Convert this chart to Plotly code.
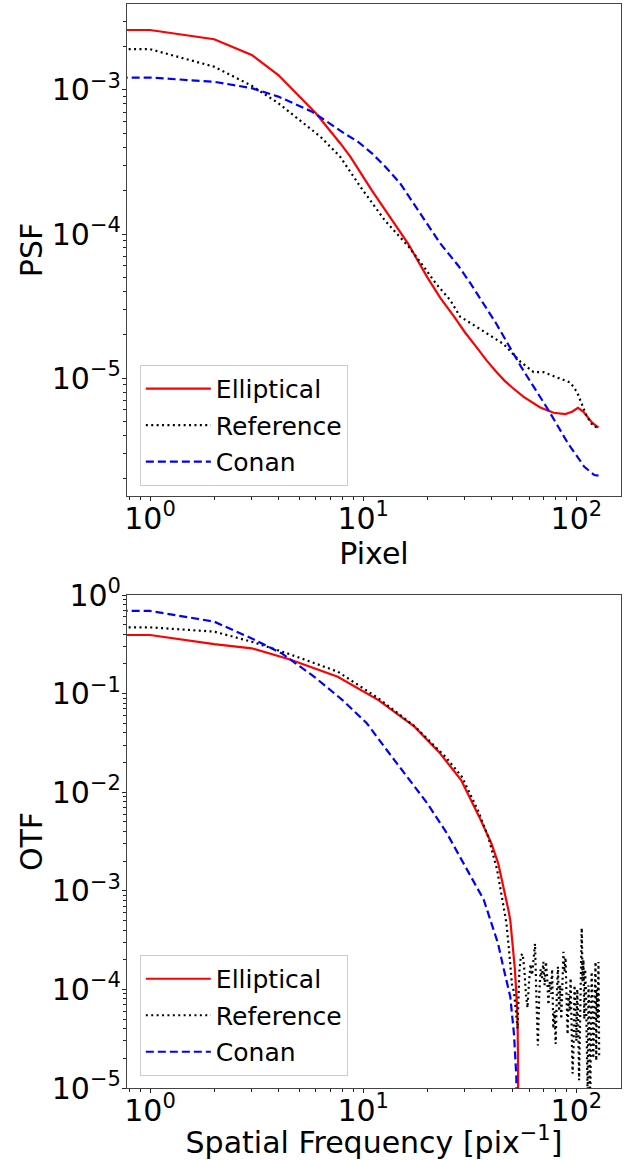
import plotly.graph_objects as go
import numpy as np

# ---------------- PSF (top) ----------------
psf_ell_x = [0.01, 1, 2, 3, 4, 5, 6, 7.8, 8.7, 11, 13, 16.3, 20, 23, 26.7, 30, 34, 38, 42, 46, 50,
             56.6, 67.7, 78.2, 88.8, 95.4, 101.8, 108, 118.5, 127]
psf_ell_y = [2.61e-3, 2.61e-3, 2.25e-3, 1.75e-3, 1.27e-3, 9.0e-4, 6.9e-4, 4.27e-4, 3.45e-4,
             2.0e-4, 1.4e-4, 8.5e-5, 5.0e-5, 3.6e-5, 2.67e-5, 2.08e-5, 1.64e-5, 1.32e-5, 1.11e-5,
             9.6e-6, 8.6e-6, 7.4e-6, 6.25e-6, 5.74e-6, 5.62e-6, 5.83e-6, 6.2e-6, 5.83e-6, 4.9e-6, 4.52e-6]

psf_ref_x = [0.01, 1, 2, 3, 4, 5, 6.3, 7.8, 9.7, 12.6, 16.3, 19.3, 22, 25.6, 28.5, 36, 40,
             45.6, 54.6, 63, 70, 84, 93.7, 100.7, 106, 112, 120.6, 127]
psf_ref_y = [1.92e-3, 1.92e-3, 1.45e-3, 1.07e-3, 8.1e-4, 6.2e-4, 4.74e-4, 3.44e-4, 2.13e-4,
             1.25e-4, 8.2e-5, 5.9e-5, 4.5e-5, 3.48e-5, 2.67e-5, 2.15e-5, 1.95e-5, 1.72e-5,
             1.3e-5, 1.1e-5, 1.1e-5, 9.95e-6, 9.3e-6, 8.0e-6, 6.7e-6, 5.4e-6, 4.6e-6, 4.55e-6]

psf_con_x = [0.01, 1, 2, 3, 4, 5.76, 8.15, 9.5, 11, 12.8, 14.9, 16.5, 18.5, 23, 28, 32, 42, 55,
             73.9, 91.6, 109, 121.5, 127]
psf_con_y = [1.22e-3, 1.22e-3, 1.14e-3, 1.03e-3, 9.0e-4, 7.07e-4, 5.0e-4, 4.35e-4, 3.63e-4,
             2.9e-4, 2.25e-4, 1.8e-4, 1.39e-4, 8.6e-5, 6.0e-5, 4.5e-5, 2.4e-5, 1.2e-5, 6.0e-6,
             3.5e-6, 2.42e-6, 2.12e-6, 2.1e-6]

# ---------------- OTF (bottom) ----------------
otf_ell_x = [0.01, 1, 2, 3, 4.5, 7.6, 11.8, 17.4, 22.6, 28.8, 35, 40, 43, 46, 48, 49, 50.5,
             51.5, 52.3, 53, 53.3, 53.4]
otf_ell_y = [0.393, 0.393, 0.318, 0.288, 0.223, 0.148, 0.086, 0.0462, 0.0258, 0.0133, 0.00565,
             0.0030, 0.0019, 1.0e-3, 6.4e-4, 5.0e-4, 2.5e-4, 1.6e-4, 9e-5, 5e-5, 1.5e-5, 1e-8]

otf_ref_x = [0.01, 1, 2, 3, 4.5, 7.6, 11.8, 17.4, 24.3, 29, 34.5, 38.6, 42.5, 44.5, 47, 48.5,
             50] + list(range(51, 129))
otf_ref_y = [0.47, 0.47, 0.425, 0.336, 0.252, 0.167, 0.0895, 0.0469, 0.0229, 0.0144, 0.0066,
             0.00354, 0.00163, 9.5e-4, 4.7e-4, 2.3e-4, 1.07e-4,
             # x = 51 .. 128 (noisy floor)
             0.95e-4, 0.6e-4, 0.4e-4, 1.5e-4, 2.2e-4, 2.3e-4, 1.6e-4, 0.9e-4, 0.65e-4, 1.2e-4,
             1.8e-4, 1.4e-4, 2.2e-4, 2.9e-4, 0.8e-4, 0.27e-4, 0.9e-4, 1.6e-4, 1.3e-4, 1.9e-4,
             1.1e-4, 1.9e-4, 1.3e-4, 0.7e-4, 1.2e-4, 0.9e-4, 1.6e-4, 0.4e-4, 0.6e-4, 0.28e-4,
             0.9e-4, 1.7e-4, 0.6e-4, 1.1e-4, 0.5e-4, 1.3e-4, 2.4e-4, 1.5e-4, 2.1e-4, 0.8e-4,
             0.35e-4, 0.9e-4, 0.6e-4, 1.3e-4, 0.4e-4, 0.14e-4, 0.25e-4, 1.1e-4, 0.7e-4, 0.3e-4,
             1.0e-4, 0.5e-4, 0.12e-4, 0.6e-4, 1.9e-4, 4.2e-4, 1.2e-4, 2.0e-4, 0.5e-4, 1.6e-4,
             0.9e-4, 0.3e-4, 0.08e-4, 1.1e-4, 0.6e-4, 0.05e-4, 0.4e-4, 1.5e-4, 0.7e-4, 0.2e-4,
             0.35e-4, 1.1e-4, 1.9e-4, 0.19e-4, 1.0e-4, 0.5e-4, 1.9e-4, 0.2e-4]

otf_con_x = [0.01, 1, 2, 3, 4.15, 5.9, 8, 10.4, 12.9, 16, 20, 24.7, 30.5, 36.8, 39.5, 42.9,
             46, 49, 51, 52.3, 53.2]
otf_con_y = [0.689, 0.689, 0.537, 0.363, 0.256, 0.148, 0.086, 0.05, 0.0268, 0.0144, 0.0077,
             0.00383, 0.00169, 8.1e-4, 5.06e-4, 2.93e-4, 1.5e-4, 8.4e-5, 3.5e-5, 1.3e-5, 1e-8]

series_names = ["Elliptical", "Reference", "Conan"]
x_tick_vals = [1, 10, 100]
x_tick_text = ["10<sup>0</sup>", "10<sup>1</sup>", "10<sup>2</sup>"]
psf_tick_vals = [1e-5, 1e-4, 1e-3]
psf_tick_text = ["10<sup>−5</sup>", "10<sup>−4</sup>", "10<sup>−3</sup>"]
otf_tick_vals = [1e-5, 1e-4, 1e-3, 1e-2, 1e-1, 1]
otf_tick_text = ["10<sup>−5</sup>", "10<sup>−4</sup>", "10<sup>−3</sup>",
                 "10<sup>−2</sup>", "10<sup>−1</sup>", "10<sup>0</sup>"]

styles = [dict(color="#ff0000", width=2.2),
          dict(color="#000000", width=2.2, dash="2px,3.4px"),
          dict(color="#0000ff", width=2.2, dash="8px,4px")]

fig = go.Figure()
for i, (xs, ys) in enumerate([(psf_ell_x, psf_ell_y), (psf_ref_x, psf_ref_y), (psf_con_x, psf_con_y)]):
    fig.add_trace(go.Scatter(x=xs, y=ys, mode="lines", name=series_names[i], line=styles[i],
                             xaxis="x", yaxis="y", legend="legend", legendgroup=f"a{i}"))
for i, (xs, ys) in enumerate([(otf_ell_x, otf_ell_y), (otf_ref_x, otf_ref_y), (otf_con_x, otf_con_y)]):
    fig.add_trace(go.Scatter(x=xs, y=ys, mode="lines", name=series_names[i], line=styles[i],
                             xaxis="x2", yaxis="y2", legend="legend2", legendgroup=f"b{i}"))

FONT = "DejaVu Sans"
minor_x = [m * 10 ** k for k in range(-1, 3) for m in range(2, 10)]
minor_y = [m * 10 ** k for k in range(-7, 1) for m in range(2, 10)]
TITLE_FONT = dict(family=FONT, size=30, color="black")

def axis_common():
    return dict(type="log", showgrid=False, zeroline=False, showline=True, mirror=True,
                automargin=False,
                linecolor="#444444", linewidth=1.1, ticks="outside", ticklen=4, tickwidth=1,
                tickcolor="#222222", tickfont=dict(family=FONT, size=30, color="black"))

xa = axis_common(); xa.update(domain=[0, 1], anchor="y", range=[np.log10(0.78), np.log10(162)],
                              tickvals=x_tick_vals, ticktext=x_tick_text, ticklabelstandoff=-8,
                              minor=dict(tickvals=minor_x, ticks="outside", ticklen=2.5, tickcolor="#222222"),
                              title=dict(text="Pixel", font=TITLE_FONT, standoff=0))
ya = axis_common(); ya.update(domain=[1 - 492 / 1084, 1], anchor="x", range=[-5.819, -2.403],
                              tickvals=psf_tick_vals, ticktext=psf_tick_text, ticklabelstandoff=-5,
                              minor=dict(tickvals=minor_y, ticks="outside", ticklen=2.5, tickcolor="#222222"),
                              title=dict(text="PSF", font=TITLE_FONT, standoff=0))
xb = axis_common(); xb.update(domain=[0, 1], anchor="y2", range=[np.log10(0.78), np.log10(162)],
                              tickvals=x_tick_vals, ticktext=x_tick_text, ticklabelstandoff=-8,
                              minor=dict(tickvals=minor_x, ticks="outside", ticklen=2.5, tickcolor="#222222"),
                              title=dict(text="Spatial Frequency [pix<sup>−1</sup>]", font=TITLE_FONT,
                                         standoff=5))
yb = axis_common(); yb.update(domain=[0, 1 - 591 / 1084], anchor="x2", range=[-5, 0],
                              tickvals=otf_tick_vals, ticktext=otf_tick_text, ticklabelstandoff=-5,
                              minor=dict(tickvals=minor_y, ticks="outside", ticklen=2.5, tickcolor="#222222"),
                              title=dict(text="OTF", font=TITLE_FONT, standoff=0))

leg_common = dict(xanchor="left", yanchor="top", bgcolor="rgba(255,255,255,0.85)",
                  bordercolor="#cccccc", borderwidth=1, traceorder="grouped", tracegroupgap=1,
                  itemwidth=65, font=dict(family=FONT, size=25, color="black"))

fig.update_layout(
    width=632, height=1160,
    margin=dict(l=127, r=11, t=4, b=72, autoexpand=False),
    paper_bgcolor="white", plot_bgcolor="white",
    font=dict(family=FONT, color="black"),
    xaxis=xa, yaxis=ya, xaxis2=xb, yaxis2=yb,
    legend=dict(x=0.026, y=0.667, **leg_common),
    legend2=dict(x=0.026, y=0.1227, **leg_common),
    showlegend=True,
)

fig.write_html("out.html")
